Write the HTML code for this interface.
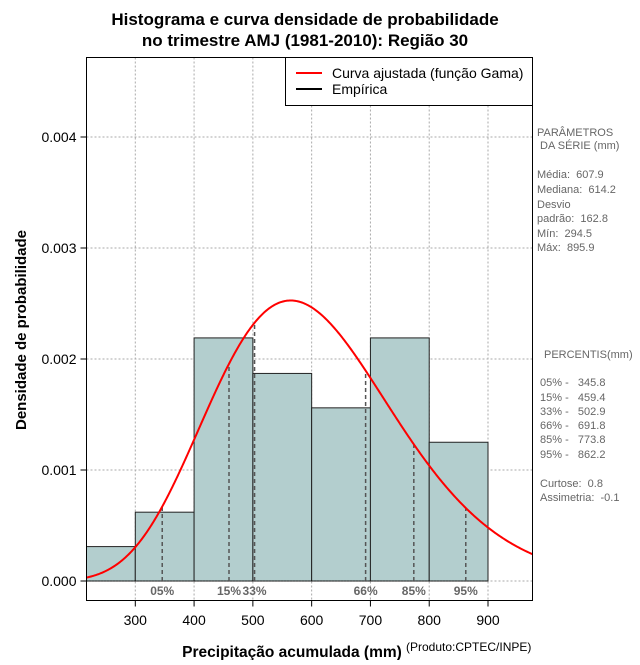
<!DOCTYPE html>
<html><head><meta charset="utf-8"><style>
body{margin:0;background:#fff;}
svg text{font-family:"Liberation Sans",sans-serif;white-space:pre;}
</style></head><body>
<svg id="c" width="640" height="660" xmlns="http://www.w3.org/2000/svg">
<text x="305" y="25" text-anchor="middle" font-size="17" font-weight="bold">Histograma e curva densidade de probabilidade</text>
<text x="305" y="46" text-anchor="middle" font-size="17" font-weight="bold">no trimestre AMJ (1981-2010): Região 30</text>
<g id="grid"></g><g id="bars"></g><g id="pct"></g><g id="curve"></g><g id="axes"></g>
<rect x="86.5" y="57.5" width="446" height="543" fill="none" stroke="#000"/>
<g>
<rect x="285.5" y="57.5" width="247" height="48" fill="#fff" stroke="#000"/>
<line x1="296" y1="73" x2="322" y2="73" stroke="#f00" stroke-width="2"/>
<text x="332" y="78" font-size="14">Curva ajustada (função Gama)</text>
<line x1="296" y1="89" x2="322" y2="89" stroke="#000" stroke-width="2"/>
<text x="332" y="94" font-size="14">Empírica</text>
</g>
<text transform="translate(26,330) rotate(-90)" text-anchor="middle" font-size="15" font-weight="bold">Densidade de probabilidade</text>
<text x="292" y="657" text-anchor="middle" font-size="15.5" font-weight="bold">Precipitação acumulada (mm)</text>
<text x="406" y="651" font-size="12">(Produto:CPTEC/INPE)</text>
<g font-size="11" fill="#666">
<text x="537" y="136">PARÂMETROS</text><text x="540" y="149">DA SÉRIE (mm)</text>
<text x="537" y="178">Média:  607.9</text><text x="537" y="193">Mediana:  614.2</text>
<text x="537" y="208">Desvio</text><text x="537" y="222">padrão:  162.8</text>
<text x="537" y="237">Mín:  294.5</text><text x="537" y="251">Máx:  895.9</text>
<text x="544" y="358">PERCENTIS(mm)</text>
<text x="540" y="386">05% -   345.8</text><text x="540" y="401">15% -   459.4</text>
<text x="540" y="415">33% -   502.9</text><text x="540" y="429">66% -   691.8</text>
<text x="540" y="443">85% -   773.8</text><text x="540" y="458">95% -   862.2</text>
<text x="540" y="487">Curtose:  0.8</text><text x="540" y="501">Assimetria:  -0.1</text>
</g>
</svg>
<script>
const binStarts=[200,300,400,500,600,700,800];
const binDensity=[0.00031,0.00062,0.00219,0.00187,0.00156,0.00219,0.00125];
const xTicks=[300,400,500,600,700,800,900];
const yTicks=[0,0.001,0.002,0.003,0.004];
const yTickLabels=["0.000","0.001","0.002","0.003","0.004"];
const pctLabels=["05%","15%","33%","66%","85%","95%"];
const pctValues=[345.8,459.4,502.9,691.8,773.8,862.2];
const gammaMean=607.9, gammaSd=162.8;
const binWidth=100;
const NS="http://www.w3.org/2000/svg";
const X0=86.5,X1=532.5,Y0=57.5,Y1=600.5;
const xs=v=>135.3+(v-300)*(488-135.3)/600;
const ys=v=>581-v*(581-137)/0.004;
function mk(p,t,a){const e=document.createElementNS(NS,t);for(const k in a)e.setAttribute(k,a[k]);p.appendChild(e);return e;}
const G=id=>document.getElementById(id);
const k=(gammaMean/gammaSd)**2, th=gammaSd*gammaSd/gammaMean;
function lgamma(z){const g=7,c=[0.99999999999980993,676.5203681218851,-1259.1392167224028,771.32342877765313,-176.61502916214059,12.507343278686905,-0.13857109526572012,9.9843695780195716e-6,1.5056327351493116e-7];z-=1;let a=c[0];const t=z+g+0.5;for(let i=1;i<9;i++)a+=c[i]/(z+i);return 0.5*Math.log(2*Math.PI)+(z+0.5)*Math.log(t)-t+Math.log(a);}
const pdf=x=>Math.exp((k-1)*Math.log(x)-x/th-lgamma(k)-k*Math.log(th));
xTicks.forEach(v=>{const l=mk(G('grid'),'line',{x1:xs(v),x2:xs(v),y1:Y0,y2:Y1,stroke:'#aaa','stroke-dasharray':'2,2'});

});
yTicks.forEach(v=>{const l=mk(G('grid'),'line',{x1:X0,x2:X1,y1:ys(v),y2:ys(v),stroke:'#aaa','stroke-dasharray':'2,2'});

});
binStarts.forEach((s,i)=>{const a=Math.max(xs(s),X0),b=xs(s+binWidth);
const r=mk(G('bars'),'rect',{x:a,y:ys(binDensity[i]),width:b-a,height:ys(0)-ys(binDensity[i]),fill:'#b3cece',stroke:'#222','stroke-width':1});

});
mk(G('bars'),'line',{x1:X0,x2:xs(900),y1:ys(0),y2:ys(0),stroke:'#000','stroke-dasharray':'1,2'});
pctValues.forEach((v,i)=>{const l=mk(G('pct'),'line',{x1:xs(v),x2:xs(v),y1:ys(0),y2:ys(pdf(v)),stroke:'#555','stroke-width':1.5,'stroke-dasharray':'4,3'});


const t=mk(G('pct'),'text',{x:xs(v),y:595,'text-anchor':'middle','font-size':12,'font-weight':'bold',fill:'#666','font-family':'Liberation Serif,serif'});
t.textContent=pctLabels[i];

});
let d='';for(let px=X0;px<=X1;px+=1){const v=300+(px-135.3)*600/(488-135.3);d+=(d?'L':'M')+px+','+ys(pdf(v)).toFixed(2);}
const cv=mk(G('curve'),'path',{d:d,fill:'none',stroke:'#f00','stroke-width':2});


xTicks.forEach(v=>{mk(G('axes'),'line',{x1:xs(v),x2:xs(v),y1:Y1,y2:Y1+6,stroke:'#000'});
const t=mk(G('axes'),'text',{x:xs(v),y:625,'text-anchor':'middle','font-size':14});t.textContent=v;

});
yTicks.forEach((v,i)=>{mk(G('axes'),'line',{x1:X0-6,x2:X0,y1:ys(v),y2:ys(v),stroke:'#000'});
const t=mk(G('axes'),'text',{x:X0-10,y:ys(v)+5,'text-anchor':'end','font-size':14});t.textContent=yTickLabels[i];

});
</script>
</body></html>
